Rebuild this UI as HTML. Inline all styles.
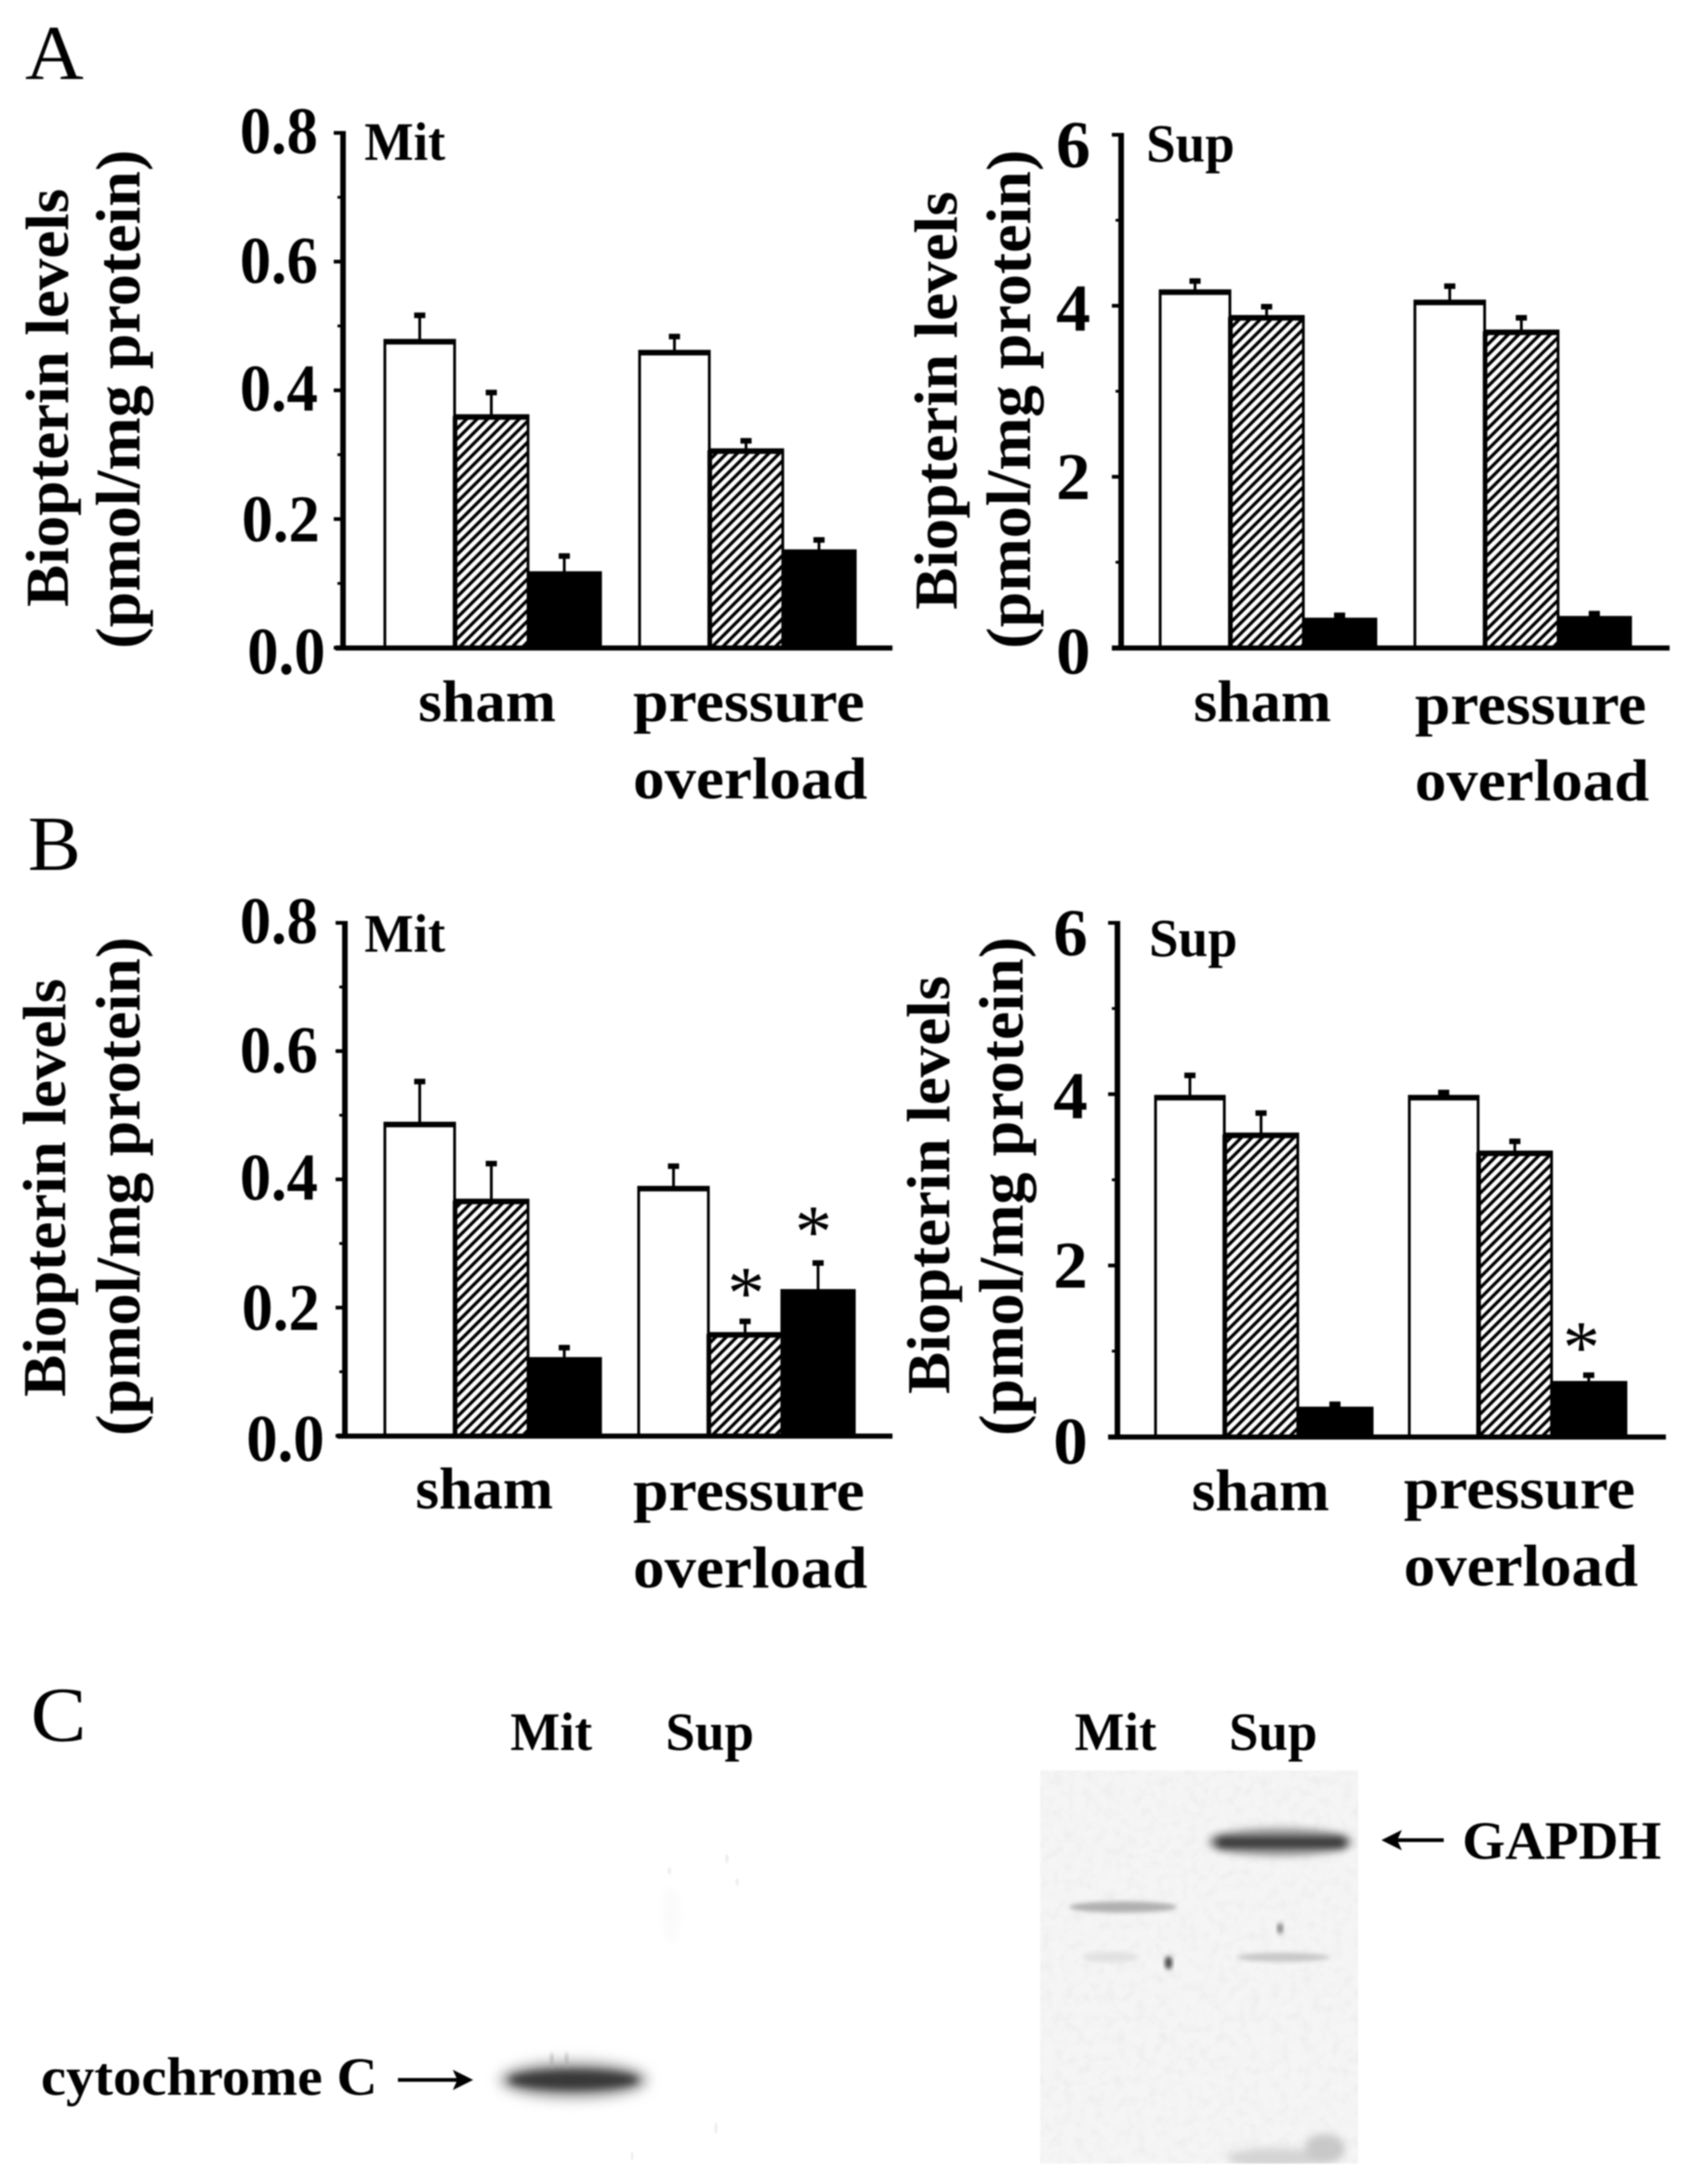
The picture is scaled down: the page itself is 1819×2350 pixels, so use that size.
<!DOCTYPE html>
<html lang="en">
<head>
<meta charset="utf-8">
<title>Biopterin levels in mitochondria and supernatant</title>
<style>
html,body{margin:0;padding:0;background:#fff;}
svg{display:block;filter:blur(0.7px);}
text{font-family:"Liberation Serif",serif;fill:#000;}
.b{font-weight:bold;}
</style>
</head>
<body>
<svg id="figure" xmlns="http://www.w3.org/2000/svg" width="1819" height="2350" viewBox="0 0 1819 2350">
<defs>
<pattern id="hatch" width="8" height="8" patternUnits="userSpaceOnUse" patternTransform="rotate(-45)">
<rect width="8" height="8" fill="#fff"></rect>
<rect width="8" height="3.5" fill="#000"></rect>
</pattern>
<filter id="b2" x="-30%" y="-100%" width="160%" height="300%"><feGaussianBlur stdDeviation="2.5"></feGaussianBlur></filter>
<filter id="b4" x="-30%" y="-100%" width="160%" height="300%"><feGaussianBlur stdDeviation="4.5"></feGaussianBlur></filter>
<filter id="b7" x="-30%" y="-100%" width="160%" height="300%"><feGaussianBlur stdDeviation="7"></feGaussianBlur></filter>
<filter id="grain" x="0" y="0" width="100%" height="100%">
<feTurbulence type="fractalNoise" baseFrequency="0.09" numOctaves="3" seed="4"></feTurbulence>
<feColorMatrix type="matrix" values="0 0 0 0 0.5  0 0 0 0 0.5  0 0 0 0 0.5  0.9 0 0 0 -0.38"></feColorMatrix>
</filter>
<clipPath id="membrane-clip"><rect x="1119" y="1905" width="342" height="423"></rect></clipPath>
</defs>
<rect width="1819" height="2350" fill="#fff"></rect>

<text x="27" y="85" font-size="84" textLength="63" lengthAdjust="spacingAndGlyphs">A</text>
<text x="30" y="936" font-size="84" textLength="57" lengthAdjust="spacingAndGlyphs">B</text>
<text x="33" y="1873" font-size="84" textLength="60" lengthAdjust="spacingAndGlyphs">C</text>

<g id="charts"></g>

<g>
<text class="b" x="549" y="1883" font-size="58" textLength="88" lengthAdjust="spacingAndGlyphs">Mit</text>
<text class="b" x="716" y="1883" font-size="58" textLength="95" lengthAdjust="spacingAndGlyphs">Sup</text>
<g fill="#f0f0f0">
<ellipse cx="722" cy="2060" rx="9" ry="30" fill="#fafafa" filter="url(#b4)"></ellipse>
<ellipse cx="720" cy="2013" rx="2" ry="4"></ellipse>
<ellipse cx="782" cy="2000" rx="2" ry="5"></ellipse>
<ellipse cx="793" cy="2025" rx="2" ry="4"></ellipse>
<ellipse cx="770" cy="2290" rx="2" ry="6"></ellipse>
<ellipse cx="680" cy="2320" rx="1.5" ry="5"></ellipse>
</g>
<g>
<ellipse cx="617" cy="2238" rx="80" ry="20" fill="#a0a0a0" filter="url(#b7)"></ellipse>
<ellipse cx="617" cy="2238" rx="70" ry="11" fill="#383838" filter="url(#b4)"></ellipse>
<rect x="592" y="2210" width="3" height="14" fill="#aaa" filter="url(#b2)"></rect>
<rect x="608" y="2210" width="3" height="14" fill="#aaa" filter="url(#b2)"></rect>
</g>
<text class="b" x="44" y="2254" font-size="58" textLength="362" lengthAdjust="spacingAndGlyphs">cytochrome C</text>
<g>
<rect x="428" y="2236" width="70" height="4"></rect>
<polygon points="509,2238 487,2227 492,2238 487,2249"></polygon>
</g>
</g>

<g>
<text class="b" x="1156" y="1883" font-size="58" textLength="88" lengthAdjust="spacingAndGlyphs">Mit</text>
<text class="b" x="1322" y="1883" font-size="58" textLength="95" lengthAdjust="spacingAndGlyphs">Sup</text>
<rect x="1119" y="1905" width="342" height="423" fill="#f5f5f5"></rect>
<rect x="1119" y="1905" width="342" height="423" filter="url(#grain)" opacity="0.3"></rect>
<g clip-path="url(#membrane-clip)">
<g>
<ellipse cx="1377" cy="1982" rx="78" ry="15" fill="#9a9a9a" filter="url(#b4)"></ellipse>
<rect x="1308" y="1977" width="140" height="11" rx="5" fill="#2c2c2c" filter="url(#b4)"></rect>
</g>
<ellipse cx="1208" cy="2052" rx="58" ry="6" fill="#b0b0b0" filter="url(#b2)"></ellipse>
<ellipse cx="1380" cy="2106" rx="50" ry="5" fill="#c8c8c8" filter="url(#b2)"></ellipse>
<ellipse cx="1195" cy="2106" rx="30" ry="6" fill="#e2e2e2" filter="url(#b2)"></ellipse>
<ellipse cx="1257" cy="2112" rx="4" ry="7" fill="#444" filter="url(#b2)"></ellipse>
<ellipse cx="1377" cy="2075" rx="3" ry="6" fill="#777" filter="url(#b2)"></ellipse>
<ellipse cx="1370" cy="2322" rx="50" ry="11" fill="#d4d4d4" filter="url(#b4)"></ellipse>
<ellipse cx="1425" cy="2312" rx="22" ry="16" fill="#c8c8c8" filter="url(#b4)"></ellipse>
</g>
<g>
<rect x="1499" y="1978" width="54" height="4"></rect>
<polygon points="1486,1980 1508,1969 1503,1980 1508,1991"></polygon>
</g>
<text class="b" x="1573" y="2000" font-size="58" textLength="214" lengthAdjust="spacingAndGlyphs">GAPDH</text>
</g>

<script>
// Panel A, mitochondrial fraction (pmol/mg protein)
const aMitMeans = [0.477, 0.36, 0.116, 0.46, 0.307, 0.15];
const aMitErrors = [0.041, 0.038, 0.028, 0.025, 0.016, 0.019];
// Panel A, supernatant fraction
const aSupMeans = [4.17, 3.87, 0.33, 4.05, 3.7, 0.35];
const aSupErrors = [0.13, 0.13, 0.06, 0.19, 0.17, 0.06];
// Panel B, mitochondrial fraction
const bMitMeans = [0.487, 0.367, 0.12, 0.387, 0.159, 0.226];
const bMitErrors = [0.067, 0.059, 0.019, 0.035, 0.021, 0.045];
// Panel B, supernatant fraction
const bSupMeans = [3.97, 3.53, 0.33, 3.97, 3.32, 0.63];
const bSupErrors = [0.26, 0.26, 0.06, 0.06, 0.14, 0.1];
// Significance markers (index into the series above)
const aMitStars = [];
const aSupStars = [];
const bMitStars = [4, 5];
const bSupStars = [5];
// Tick labels
const mitTicks = ["0.8", "0.6", "0.4", "0.2", "0.0"];
const supTicks = ["6", "4", "2", "0"];
const categories = ["sham", "pressure", "overload"];

const NS = "http://www.w3.org/2000/svg";
const root = document.getElementById("charts");

function make(tag, attrs, parent) {
  const el = document.createElementNS(NS, tag);
  for (const k in attrs) el.setAttribute(k, attrs[k]);
  parent.appendChild(el);
  return el;
}

function drawText(parent, name, str, x, y, size, len, bold, rotate) {
  const t = make("text", { x: x, y: y, "font-size": size, textLength: len, lengthAdjust: "spacingAndGlyphs" }, parent);
  
  
  if (bold) t.setAttribute("class", "b");
  if (rotate) t.setAttribute("transform", "rotate(-90 " + x + " " + y + ")");
  t.textContent = str;
  return t;
}

function drawPanel(p) {
  const g = make("g", {}, root);
  
  
  const maxValue = parseFloat(p.ticks[0]);
  const yScale = v => p.base - (v / maxValue) * (p.base - p.top);
  const minorCount = p.ticks.length - 1;

  // bars
  p.means.forEach((m, i) => {
    const group = i < 3 ? 0 : 1;
    const inGroup = i % 3;
    let x0 = p.groupX[group];
    for (let k = 0; k < inGroup; k++) x0 += p.widths[k];
    const w = p.widths[inGroup];
    const yTop = yScale(m);
    const cx = x0 + w / 2;
    const errTop = yScale(m + p.errors[i]);

    const stem = make("rect", { x: cx - 1.5, y: errTop, width: 3, height: yTop - errTop, fill: "#000" }, g);
    
    
    const cap = make("rect", { x: cx - 6, y: errTop - 2, width: 12, height: 6, fill: "#000" }, g);
    
    

    const fill = inGroup === 0 ? "#fff" : inGroup === 1 ? "url(#hatch)" : "#000";
    const bar = make("rect", { x: x0, y: yTop, width: w, height: p.base - yTop, fill: fill, stroke: "#000", "stroke-width": 3 }, g);
    
    
    const lid = make("rect", { x: x0 - 1.5, y: yTop - 2, width: w + 3, height: 6, fill: "#000" }, g);
    
    
    if (inGroup === 1) {
      const edge = make("rect", { x: x0 - 2, y: yTop, width: 5, height: p.base - yTop, fill: "#000" }, g);
      
      
    }

    if (p.stars.includes(i)) {
      const dx = inGroup === 2 ? p.starShift[0] : 1;
      const dy = inGroup === 2 ? p.starShift[1] : -3;
      const s = make("text", { x: cx + dx, y: errTop + dy, "font-size": 80, "text-anchor": "middle" }, g);
      
      
      s.textContent = "*";
    }
  });

  // axes
  const yAxis = make("rect", { x: p.axisX - 3, y: p.top - 2, width: 6, height: p.base - p.top + 2, fill: "#000" }, g);
  
  
  const xAxis = make("rect", { x: p.baseX[0], y: p.base - 2.5, width: p.baseX[1] - p.baseX[0], height: 5.5, fill: "#000" }, g);
  
  

  // ticks and tick labels
  p.ticks.forEach((label, i) => {
    const v = parseFloat(label);
    const y = yScale(v);
    const tick = make("rect", { x: p.axisX - 10, y: y - 2, width: 8, height: 4, fill: "#000" }, g);
    
    
    if (i < minorCount) {
      const minor = make("rect", { x: p.axisX - 6, y: yScale(v - maxValue / minorCount / 2) - 1.5, width: 4, height: 3, fill: "#000" }, g);
      
      
    }
    const t = drawText(g, 'y-tick-label', label, p.tickEnd[i], y + p.tickDy[i], p.tickSize, p.tickLen, true, false);
    t.setAttribute("text-anchor", "end");
  });

  // titles and category labels
  drawText(g, 'fraction-label', p.label, p.labelPos[0], p.labelPos[1], 58, p.labelLen, true, false);
  drawText(g, 'y-axis-title-line-1', "Biopterin levels", p.title1[0], p.title1[1], 66, 450, true, true);
  drawText(g, 'y-axis-title-line-2', "(pmol/mg protein)", p.title2[0], p.title2[1], 68, 537, true, true);
  drawText(g, 'category-sham', categories[0], p.sham[0], p.sham[1], 64, 148, true, false);
  drawText(g, 'category-pressure', categories[1], p.press[0], p.press[1], 64, 249, true, false);
  drawText(g, 'category-overload', categories[2], p.over[0], p.over[1], 64, 252, true, false);
}

drawPanel({
  name: "chart-a-mit", label: "Mit", ticks: mitTicks, means: aMitMeans, errors: aMitErrors, stars: aMitStars, starShift: [-4, -6],
  axisX: 369, top: 143, base: 697, baseX: [361, 960], groupX: [414, 688], widths: [75, 79, 78],
  tickEnd: [342, 342, 342, 344, 350], tickDy: [22, 23, 22, 24, 28], tickSize: 72, tickLen: 84,
  labelPos: [392, 172], labelLen: 87, title1: [73, 653], title2: [150, 698],
  sham: [450, 776], press: [681, 776], over: [681, 859]
});
drawPanel({
  name: "chart-a-sup", label: "Sup", ticks: supTicks, means: aSupMeans, errors: aSupErrors, stars: aSupStars, starShift: [-8, -2],
  axisX: 1206, top: 145, base: 697, baseX: [1196, 1796], groupX: [1248, 1522], widths: [75, 79, 78],
  tickEnd: [1173, 1173, 1173, 1173], tickDy: [35, 27, 24, 28], tickSize: 72, tickLen: 37,
  labelPos: [1233, 174], labelLen: 95, title1: [1029, 656], title2: [1108, 698],
  sham: [1284, 776], press: [1522, 779], over: [1522, 861]
});
drawPanel({
  name: "chart-b-mit", label: "Mit", ticks: mitTicks, means: bMitMeans, errors: bMitErrors, stars: bMitStars, starShift: [-5, -6],
  axisX: 371, top: 993, base: 1545, baseX: [363, 960], groupX: [414, 687], widths: [75, 79, 78],
  tickEnd: [342, 342, 342, 344, 349], tickDy: [22, 23, 22, 24, 27], tickSize: 72, tickLen: 84,
  labelPos: [392, 1024], labelLen: 87, title1: [70, 1503], title2: [150, 1545],
  sham: [447, 1623], press: [681, 1625], over: [681, 1708]
});
drawPanel({
  name: "chart-b-sup", label: "Sup", ticks: supTicks, means: bSupMeans, errors: bSupErrors, stars: bSupStars, starShift: [-8, -2],
  axisX: 1202, top: 993, base: 1546, baseX: [1192, 1792], groupX: [1243, 1516], widths: [74, 79, 80],
  tickEnd: [1170, 1170, 1170, 1170], tickDy: [35, 26, 24, 29], tickSize: 72, tickLen: 37,
  labelPos: [1236, 1029], labelLen: 95, title1: [1021, 1500], title2: [1100, 1545],
  sham: [1282, 1625], press: [1510, 1623], over: [1510, 1706]
});
</script>
</svg>
</body>
</html>
